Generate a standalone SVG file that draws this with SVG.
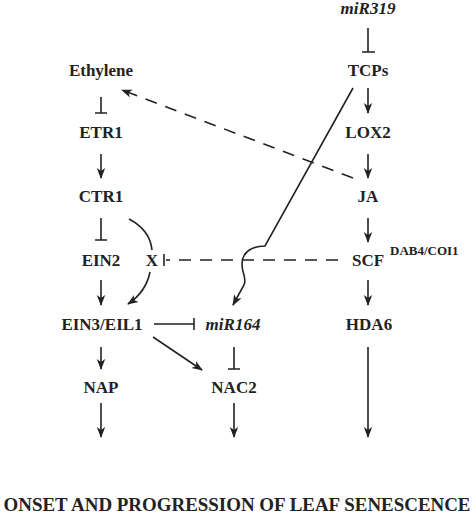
<svg xmlns="http://www.w3.org/2000/svg" width="474" height="521" viewBox="0 0 474 521">
<style>
text{font-family:"Liberation Serif","Times New Roman",serif;font-weight:bold;font-size:17px;fill:#222;text-anchor:middle}
.it{font-style:italic}
.sup{font-size:13px;text-anchor:start}
.ln{stroke:#222;stroke-width:1.6;fill:none}
.ar{marker-end:url(#ah)}
.ds{stroke-dasharray:12 9}
</style>
<defs>
<marker id="ah" markerUnits="userSpaceOnUse" markerWidth="11" markerHeight="10" viewBox="0 0 11 10" refX="10" refY="5" orient="auto">
<path d="M0,0.8 L11,5 L0,9.2 L3,5 z" fill="#222"/>
</marker>
</defs>
<rect width="474" height="521" fill="#fff"/>
<g id="miR319"><text class="it" x="368" y="14">miR319</text></g>
<g id="Ethylene"><text x="101" y="76">Ethylene</text></g>
<g id="TCPs"><text x="368" y="76">TCPs</text></g>
<g id="ETR1"><text x="101" y="138">ETR1</text></g>
<g id="LOX2"><text x="368" y="138">LOX2</text></g>
<g id="CTR1"><text x="101" y="202">CTR1</text></g>
<g id="JA"><text x="368" y="202">JA</text></g>
<g id="EIN2"><text x="101" y="266">EIN2</text></g>
<g id="X"><text x="152" y="266">X</text></g>
<g id="SCF"><text x="368" y="266">SCF</text><text class="sup" x="390" y="255">DAB4/COI1</text></g>
<g id="EIN3"><text x="102" y="330">EIN3/EIL1</text></g>
<g id="miR164"><text class="it" x="233" y="330">miR164</text></g>
<g id="HDA6"><text x="369" y="330">HDA6</text></g>
<g id="NAP"><text x="101" y="393">NAP</text></g>
<g id="NAC2"><text x="234" y="393">NAC2</text></g>
<g id="senescence"><text x="237" y="511" style="font-size:18.8px" textLength="467" lengthAdjust="spacingAndGlyphs">ONSET AND PROGRESSION OF LEAF SENESCENCE</text></g>
<g id="connectors">
<path class="ln" d="M368,28 V52 M362,52 H375"/>
<path class="ln" d="M101,97 V113 M95,113 H107"/>
<path class="ln ar" d="M368,88 V113"/>
<path class="ln ar" d="M101,154 V178"/>
<path class="ln ar" d="M368,154 V178"/>
<path class="ln ds ar" d="M353,178 L122,90"/>
<path class="ln" d="M101,218 V240 M95,240 H107"/>
<path class="ln ar" d="M368,218 V242"/>
<path class="ln" d="M129,219 Q150,230 152,250"/>
<path class="ln ar" d="M150,272 Q146,292 128,304"/>
<path class="ln ds" d="M338,260 H166"/>
<path class="ln" d="M164,254 V266"/>
<path class="ln ar" d="M353,88 L265,246 C252,246 242,252 242,264 C242,274 247,278 244,285 L233,305"/>
<path class="ln ar" d="M101,280 V305"/>
<path class="ln ar" d="M368,280 V305"/>
<path class="ln" d="M154,324 H194 M194,318 V330"/>
<path class="ln ar" d="M101,347 V369"/>
<path class="ln ar" d="M153,337 L202,370"/>
<path class="ln" d="M234,347 V369 M228,369 H240"/>
<path class="ln ar" d="M101,403 V437"/>
<path class="ln ar" d="M234,403 V437"/>
<path class="ln ar" d="M368,347 V437"/>
</g>
</svg>
